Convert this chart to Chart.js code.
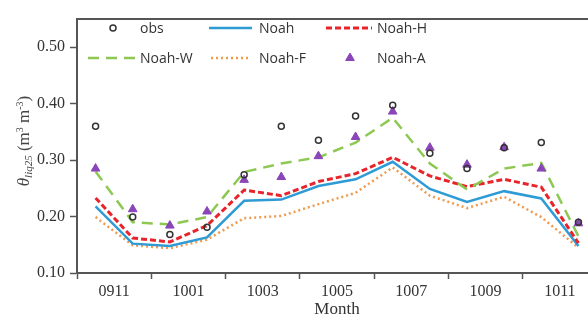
<!DOCTYPE html>
<html lang="en">
<head>
    <meta charset="UTF-8">
    <title>Soil moisture by month</title>
    <script src="https://cdn.jsdelivr.net/npm/chart.js@4/dist/chart.umd.min.js"></script>
    <style>
        html, body { margin: 0; padding: 0; background: #fff; overflow: hidden; }
        #wrap { width: 603px; height: 320px; }
    </style>
</head>
<body>
    <div id="wrap"><canvas id="chart"></canvas></div>
    <script>

// months 0910 .. 1011, one value per month (plotted mid-month)
const months = ['0910', '0911', '0912', '1001', '1002', '1003', '1004',
                '1005', '1006', '1007', '1008', '1009', '1010', '1011'];

const obs   = [0.360, 0.199, 0.168, 0.181, 0.274, 0.360, 0.335, 0.378, 0.397, 0.312, 0.285, 0.322, 0.331, 0.190];
const noah  = [0.218, 0.152, 0.148, 0.163, 0.228, 0.230, 0.254, 0.266, 0.297, 0.249, 0.226, 0.245, 0.232, 0.148];
const noahH = [0.233, 0.162, 0.155, 0.184, 0.247, 0.237, 0.262, 0.276, 0.305, 0.272, 0.253, 0.266, 0.252, 0.153];
const noahW = [0.280, 0.190, 0.186, 0.199, 0.279, 0.294, 0.305, 0.331, 0.375, 0.294, 0.248, 0.285, 0.295, 0.165];
const noahF = [0.199, 0.149, 0.144, 0.159, 0.197, 0.201, 0.222, 0.242, 0.287, 0.237, 0.215, 0.235, 0.199, 0.145];
const noahA = [0.285, 0.213, 0.184, 0.209, 0.265, 0.270, 0.307, 0.341, 0.386, 0.322, 0.292, 0.323, 0.285, 0.188];

const yTicks = [0.10, 0.20, 0.30, 0.40, 0.50];

const AXIS = '#555';
const SERIF = '"Liberation Serif", "DejaVu Serif", serif';

function pts(arr) {
    return arr.map((v, i) => ({ x: i + 0.5, y: v }));
}

// legend slots: [marker x1, marker x2, y, text x]
const legendSlots = [
    [113, 113, 28, 140],
    [209, 252, 28, 259],
    [326, 372, 28, 377],
    [88, 135, 58, 140],
    [211, 250, 58, 259],
    [350, 350, 58, 377]
];

const legendPlugin = {
    id: 'insideLegend',
    afterDraw(chart) {
        const ctx = chart.ctx;
        ctx.save();
        ctx.font = '14px "Open Sans", "Noto Sans", sans-serif';
        ctx.textBaseline = 'middle';
        chart.data.datasets.forEach((ds, i) => {
            const [x1, x2, y, tx] = legendSlots[i];
            if (ds.showLine === false) {
                ctx.strokeStyle = ds.pointBorderColor;
                ctx.fillStyle = ds.pointBackgroundColor;
                ctx.lineWidth = ds.pointBorderWidth;
                Chart.helpers.drawPoint(ctx, {
                    pointStyle: ds.pointStyle, radius: ds.pointRadius,
                    rotation: 0, borderWidth: ds.pointBorderWidth
                }, x1, y);
            } else {
                ctx.strokeStyle = ds.borderColor;
                ctx.lineWidth = ds.borderWidth;
                ctx.setLineDash(ds.borderDash || []);
                ctx.beginPath();
                ctx.moveTo(x1, y);
                ctx.lineTo(x2, y);
                ctx.stroke();
                ctx.setLineDash([]);
            }
            ctx.fillStyle = '#333';
            ctx.fillText(ds.label, tx, y + 1);
        });
        ctx.restore();
    }
};

// rotated y title with sub/superscripts
const yTitlePlugin = {
    id: 'yTitle',
    afterDraw(chart) {
        const ctx = chart.ctx;
        const parts = [
            { t: '\u03b8', f: 'italic 17px ' + SERIF, dy: 0 },
            { t: 'liq25', f: 'italic 11px ' + SERIF, dy: 4 },
            { t: ' (m', f: '17px ' + SERIF, dy: 0 },
            { t: '3', f: '10px ' + SERIF, dy: -5 },
            { t: ' m', f: '17px ' + SERIF, dy: 0 },
            { t: '-3', f: '10px ' + SERIF, dy: -5 },
            { t: ')', f: '17px ' + SERIF, dy: 0 }
        ];
        ctx.save();
        let total = 0;
        parts.forEach(p => { ctx.font = p.f; p.w = ctx.measureText(p.t).width; total += p.w; });
        ctx.translate(25, 141);
        ctx.rotate(-Math.PI / 2);
        ctx.fillStyle = '#444';
        ctx.textBaseline = 'middle';
        let x = -total / 2;
        parts.forEach(p => {
            ctx.font = p.f;
            ctx.fillText(p.t, x, p.dy);
            x += p.w;
        });
        ctx.restore();
    }
};

const ctx = document.getElementById('chart').getContext('2d');

new Chart(ctx, {
    type: 'line',
    data: {
        datasets: [
            {
                label: 'obs', data: pts(obs), showLine: false,
                pointStyle: 'circle', pointRadius: 3, pointBorderWidth: 1.5,
                pointBorderColor: '#333', pointBackgroundColor: 'rgba(255,255,255,0)',
                borderColor: '#333', order: 1
            },
            {
                label: 'Noah', data: pts(noah), borderColor: '#2e9bd5',
                borderWidth: 2.5, pointRadius: 0, order: 5
            },
            {
                label: 'Noah-H', data: pts(noahH), borderColor: '#e8242b',
                borderWidth: 3, borderDash: [6, 3], pointRadius: 0, order: 4
            },
            {
                label: 'Noah-W', data: pts(noahW), borderColor: '#8dc853',
                borderWidth: 2.5, borderDash: [11, 7], pointRadius: 0, order: 3
            },
            {
                label: 'Noah-F', data: pts(noahF), borderColor: '#f09a4c',
                borderWidth: 2.5, borderDash: [2, 3], pointRadius: 0, order: 6
            },
            {
                label: 'Noah-A', data: pts(noahA), showLine: false,
                pointStyle: 'triangle', pointRadius: 5, pointBorderWidth: 1,
                pointBorderColor: '#8a45b8', pointBackgroundColor: '#8a45b8',
                borderColor: '#8a45b8', order: 2
            }
        ]
    },
    options: {
        responsive: true,
        maintainAspectRatio: false,
        animation: false,
        layout: { padding: { top: 11, left: 0, right: 0, bottom: 0 } },
        plugins: { legend: { display: false }, tooltip: { enabled: false } },
        elements: { line: { tension: 0 } },
        scales: {
            x: {
                type: 'linear', min: 0, max: 14,
                afterFit(scale) { scale.height = 47; },
                ticks: {
                    stepSize: 1, autoSkip: false, maxRotation: 0, padding: 3,
                    color: '#333', font: { family: SERIF, size: 16 },
                    callback: v => (v % 2 === 1 ? months[v] : '')
                },
                grid: {
                    drawOnChartArea: false, drawTicks: true, tickLength: 6, tickWidth: 1.5,
                    tickColor: c => (c.tick && c.tick.value % 2 === 0 ? AXIS : 'rgba(0,0,0,0)')
                },
                border: { display: true, color: AXIS, width: 2 },
                title: {
                    display: true, text: 'Month', color: '#333',
                    font: { family: SERIF, size: 17 }, padding: 0
                }
            },
            xTop: {
                type: 'linear', position: 'top', min: 0, max: 14,
                ticks: { display: false },
                grid: { display: false },
                border: { display: true, color: AXIS, width: 2 }
            },
            y: {
                min: 0.10, max: 0.55,
                afterFit(scale) { scale.width = 77; },
                afterBuildTicks(scale) { scale.ticks = yTicks.map(v => ({ value: v })); },
                ticks: {
                    padding: 5, color: '#333', font: { family: SERIF, size: 16 },
                    callback: v => v.toFixed(2)
                },
                grid: {
                    drawOnChartArea: false, drawTicks: true, tickLength: 7,
                    tickWidth: 1.5, tickColor: AXIS
                },
                border: { display: true, color: AXIS, width: 2 }
            }
        }
    },
    plugins: [legendPlugin, yTitlePlugin]
});
    </script>
</body>
</html>
